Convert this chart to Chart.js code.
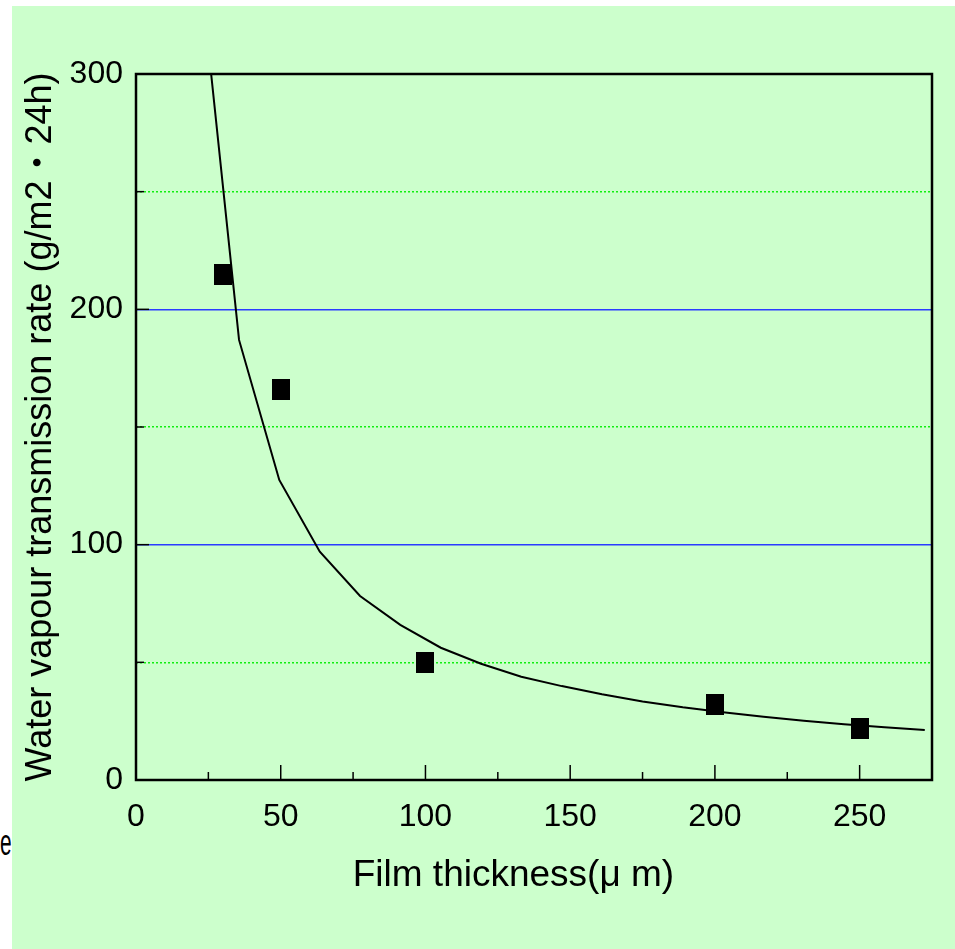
<!DOCTYPE html>
<html>
<head>
<meta charset="utf-8">
<script src="https://cdn.jsdelivr.net/npm/chart.js@4/dist/chart.umd.min.js"></script>
<style>
  html, body { margin: 0; padding: 0; background: #fff; }
  #panel { position: absolute; left: 12px; top: 6px; width: 943px; height: 943px; background: #ccffcc; }
  #stray { position: absolute; left: 0; top: 822px; font: 36px "Liberation Sans", Arial, sans-serif; color: #000;
           transform: scaleX(0.58); transform-origin: 0 0; }
  #wrap { position: absolute; left: 0; top: 0; width: 955px; height: 949px; }
</style>
</head>
<body>
<div id="panel"></div>
<div id="stray">e</div>
<div id="wrap"><canvas id="chart" width="955" height="949"></canvas></div>
<script>
// measured points
const thickness = [30, 50, 100, 200, 250];
const rate = [215, 166, 50, 32, 22];

// fitted curve
const fitX = [21.7, 35.6, 49.5, 63.5, 77.4, 91.3, 105.3, 119.2, 133.1, 147.1, 161.0, 175.0, 188.9, 202.8, 216.8, 230.7, 244.6, 258.6, 272.5];
const fitY = [350, 187, 127.5, 97, 78.2, 65.9, 56.2, 49.4, 43.9, 39.9, 36.4, 33.4, 30.9, 28.8, 26.9, 25.2, 23.7, 22.4, 21.2];

const xLabels = [0, 50, 100, 150, 200, 250];
const yLabels = [0, 100, 200, 300];

const tickFont = { family: '"Liberation Sans", Arial, sans-serif', size: 32 };
const titleFont = { family: '"Liberation Sans", Arial, "Noto Sans CJK JP", sans-serif', size: 37 };

// black marker, a bit taller than wide
const marker = document.createElement('canvas');
marker.width = 18;
marker.height = 21;
const mctx = marker.getContext('2d');
mctx.fillStyle = '#000';
mctx.fillRect(0, 0, 18, 21);

// frame + inward ticks
const frame = {
  id: 'frame',
  afterDatasetsDraw(chart) {
    const { ctx, chartArea: a, scales } = chart;
    ctx.save();
    ctx.strokeStyle = '#000';
    ctx.lineWidth = 1.5;
    scales.x.ticks.forEach(t => {
      const px = scales.x.getPixelForValue(t.value);
      const len = t.value % 50 === 0 ? 15 : 8;
      ctx.beginPath();
      ctx.moveTo(px, a.bottom);
      ctx.lineTo(px, a.bottom - len);
      ctx.stroke();
    });
    scales.y.ticks.forEach(t => {
      const py = scales.y.getPixelForValue(t.value);
      const len = t.value % 100 === 0 ? 13 : 8;
      ctx.beginPath();
      ctx.moveTo(a.left, py);
      ctx.lineTo(a.left + len, py);
      ctx.stroke();
    });
    ctx.lineWidth = 2.5;
    ctx.strokeRect(a.left, a.top, a.right - a.left, a.bottom - a.top);
    ctx.restore();
  }
};

new Chart(document.getElementById('chart'), {
  type: 'scatter',
  data: {
    datasets: [
      {
        type: 'line',
        data: fitX.map((x, i) => ({ x: x, y: fitY[i] })),
        borderColor: '#000',
        borderWidth: 2,
        pointRadius: 0,
        tension: 0,
        fill: false
      },
      {
        data: thickness.map((x, i) => ({ x: x, y: rate[i] })),
        pointStyle: marker,
        backgroundColor: '#000'
      }
    ]
  },
  options: {
    responsive: false,
    animation: false,
    devicePixelRatio: 1,
    layout: { padding: { top: 74, right: 23, left: 0, bottom: 0 } },
    plugins: { legend: { display: false }, tooltip: { enabled: false } },
    scales: {
      x: {
        type: 'linear',
        min: 0,
        max: 275,
        afterFit(s) { s.height = 169; },
        ticks: {
          stepSize: 25,
          color: '#000',
          font: tickFont,
          padding: 18,
          maxRotation: 0,
          autoSkip: false,
          callback: v => xLabels.includes(v) ? String(v) : ''
        },
        grid: { display: false, drawTicks: false },
        border: { display: false },
        title: {
          display: true,
          // trailing spaces push the centred title a little to the left, as in the original
          text: 'Film thickness(μ m)\u00A0\u00A0\u00A0\u00A0',
          color: '#000',
          font: titleFont,
          padding: { top: 0, bottom: 51 }
        }
      },
      y: {
        min: 0,
        max: 300,
        afterFit(s) { s.width = 136; },
        ticks: {
          stepSize: 50,
          color: '#000',
          font: tickFont,
          padding: 13,
          autoSkip: false,
          callback: v => yLabels.includes(v) ? String(v) : ''
        },
        grid: {
          drawTicks: false,
          lineWidth: 1.5,
          color: c => {
            const v = c.tick ? c.tick.value : null;
            if (v === 100 || v === 200) return '#2b3bff';
            if (v === 50 || v === 150 || v === 250) return '#11ee11';
            return 'rgba(0,0,0,0)';
          }
        },
        border: {
          display: false,
          dash: c => (c.tick && c.tick.value % 100 !== 0) ? [2, 2] : []
        },
        title: {
          display: true,
          text: 'Water vapour transmission rate (g/m2・24h)',
          color: '#000',
          font: { family: '"Liberation Sans", Arial, "Noto Sans CJK JP", sans-serif', size: 36 },
          padding: { top: 19, bottom: 0 }
        }
      }
    }
  },
  plugins: [frame]
});
</script>
</body>
</html>
